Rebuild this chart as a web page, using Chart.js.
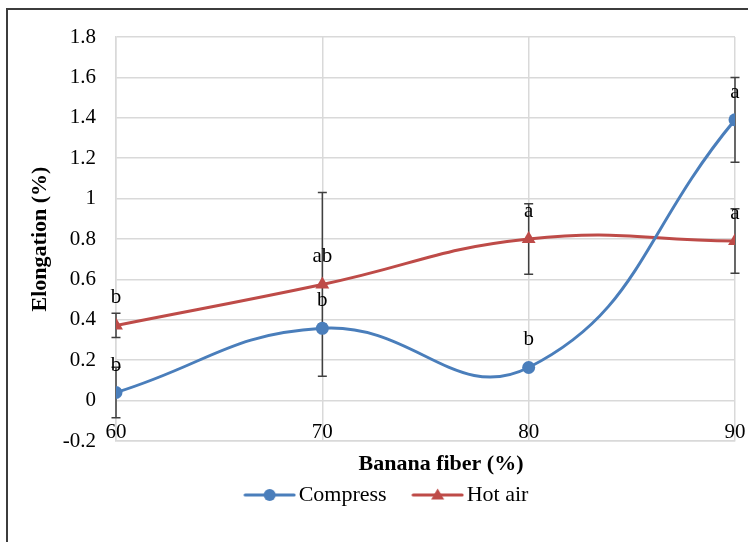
<!DOCTYPE html>
<html>
<head>
<meta charset="utf-8">
<script src="https://cdn.jsdelivr.net/npm/chart.js@4/dist/chart.umd.min.js"></script>
<style>
  html, body { margin: 0; padding: 0; background: #fff; }
  #wrap { position: relative; width: 748px; height: 542px; }
  #frame { position: absolute; left: 6px; top: 8px; right: -4px; bottom: -4px;
           border-left: 2px solid #3c3c3c; border-top: 2px solid #3c3c3c; pointer-events: none; }
</style>
</head>
<body>
<div id="wrap">
  <canvas id="elongChart" width="748" height="542"></canvas>
  <div id="frame"></div>
</div>
<script>
const fiberLevels = [60, 70, 80, 90];
const compressValues = [0.04, 0.358, 0.164, 1.39];
const compressErrors = [0.125, 0.02, 0.015, 0.21];
const compressLetters = ["b", "b", "b", "a"];
const hotAirValues = [0.372, 0.575, 0.80, 0.79];
const hotAirErrors = [0.06, 0.455, 0.175, 0.16];
const hotAirLetters = ["b", "ab", "a", "a"];
const yTicks = [-0.2, 0, 0.2, 0.4, 0.6, 0.8, 1, 1.2, 1.4, 1.6, 1.8];

const colors = {
  blue: "#4A7EBB",
  red: "#BE4B48",
  grid: "#D9D9D9",
  errBar: "#404040",
};
const serif = '"Liberation Serif", "Times New Roman", serif';

Chart.defaults.font.family = serif;
Chart.defaults.font.size = 21;
Chart.defaults.color = "#000";

// legend swatch: short line with the marker in the middle
function legendSwatch(color, shape) {
  const c = document.createElement("canvas");
  c.width = 53;
  c.height = 16;
  const g = c.getContext("2d");
  g.strokeStyle = color;
  g.lineWidth = 3;
  g.lineCap = "round";
  g.beginPath();
  g.moveTo(2, 8);
  g.lineTo(51, 8);
  g.stroke();
  g.fillStyle = color;
  g.beginPath();
  if (shape === "circle") {
    g.arc(26.5, 8, 6, 0, Math.PI * 2);
  } else {
    g.moveTo(26.5, 1.5);
    g.lineTo(33, 12.5);
    g.lineTo(20, 12.5);
    g.closePath();
  }
  g.fill();
  return c;
}
const swatches = [legendSwatch(colors.blue, "circle"), legendSwatch(colors.red, "triangle")];

const errorsBySet = [compressErrors, hotAirErrors];
const lettersBySet = [compressLetters, hotAirLetters];

// error bars drawn under the lines and markers
const errorBarPlugin = {
  id: "errorBars",
  beforeDatasetsDraw(chart) {
    const { ctx, scales } = chart;
    ctx.save();
    ctx.strokeStyle = colors.errBar;
    ctx.lineWidth = 1.5;
    chart.data.datasets.forEach((ds, i) => {
      ds.data.forEach((pt, j) => {
        const e = errorsBySet[i][j];
        const x = scales.x.getPixelForValue(pt.x);
        const yTop = scales.y.getPixelForValue(pt.y + e);
        const yBot = scales.y.getPixelForValue(pt.y - e);
        ctx.beginPath();
        ctx.moveTo(x, yTop);
        ctx.lineTo(x, yBot);
        ctx.moveTo(x - 4.5, yTop);
        ctx.lineTo(x + 4.5, yTop);
        ctx.moveTo(x - 4.5, yBot);
        ctx.lineTo(x + 4.5, yBot);
        ctx.stroke();
      });
    });
    ctx.restore();
  },
  afterDatasetsDraw(chart) {
    const { ctx, scales } = chart;
    ctx.save();
    ctx.fillStyle = "#000";
    ctx.font = "21px " + serif;
    ctx.textAlign = "center";
    ctx.textBaseline = "alphabetic";
    chart.data.datasets.forEach((ds, i) => {
      ds.data.forEach((pt, j) => {
        const x = scales.x.getPixelForValue(pt.x);
        const y = scales.y.getPixelForValue(pt.y);
        ctx.fillText(lettersBySet[i][j], x, y - 22);
      });
    });
    // x tick labels sit just under the zero line
    const y0 = scales.y.getPixelForValue(0);
    scales.x.ticks.forEach((t) => {
      ctx.fillText(String(t.value), scales.x.getPixelForValue(t.value), y0 + 37);
    });
    // x axis title
    ctx.font = "bold 22px " + serif;
    ctx.fillText("Banana fiber (%)", 441, 470);
    ctx.restore();
  },
};

const ctx = document.getElementById("elongChart").getContext("2d");
new Chart(ctx, {
  type: "line",
  data: {
    datasets: [
      {
        label: "Compress",
        data: fiberLevels.map((x, i) => ({ x: x, y: compressValues[i] })),
        borderColor: colors.blue,
        backgroundColor: colors.blue,
        borderWidth: 3,
        pointStyle: "circle",
        pointRadius: 6.5,
        pointBorderWidth: 0,
        tension: 0.45,
      },
      {
        label: "Hot air",
        data: fiberLevels.map((x, i) => ({ x: x, y: hotAirValues[i] })),
        borderColor: colors.red,
        backgroundColor: colors.red,
        borderWidth: 3,
        pointStyle: "triangle",
        pointRadius: 8,
        pointBorderWidth: 0,
        tension: 0.45,
      },
    ],
  },
  options: {
    responsive: false,
    animation: false,
    layout: { padding: { left: 45, right: 13, top: 37, bottom: 26 } },
    plugins: {
      tooltip: { enabled: false },
      legend: {
        position: "bottom",
        labels: {
          usePointStyle: true,
          pointStyleWidth: 36,
          padding: 33,
          font: { size: 22 },
          generateLabels(chart) {
            const items = Chart.defaults.plugins.legend.labels.generateLabels(chart);
            items.forEach((it, i) => { it.pointStyle = swatches[i]; });
            return items;
          },
        },
      },
    },
    scales: {
      x: {
        type: "linear",
        min: 60,
        max: 90,
        ticks: { stepSize: 10, display: false },
        grid: { color: colors.grid, lineWidth: 1.5, drawTicks: false },
        border: { color: colors.grid, width: 1.5 },
        afterFit(scale) { scale.height = 10; },
      },
      y: {
        min: -0.2,
        max: 1.8,
        afterBuildTicks(scale) { scale.ticks = yTicks.map((v) => ({ value: v })); },
        ticks: {
          padding: 20,
          font: { size: 21 },
          callback: (v) => String(Math.round(v * 10) / 10),
        },
        grid: { color: colors.grid, lineWidth: 1.5, drawTicks: false },
        border: { color: colors.grid, width: 1.5 },
        title: {
          display: true,
          text: "Elongation (%)",
          font: { size: 22, weight: "bold" },
          padding: { top: -18 },
        },
        afterFit(scale) { scale.width = 71; },
      },
    },
  },
  plugins: [errorBarPlugin],
});
</script>
</body>
</html>
